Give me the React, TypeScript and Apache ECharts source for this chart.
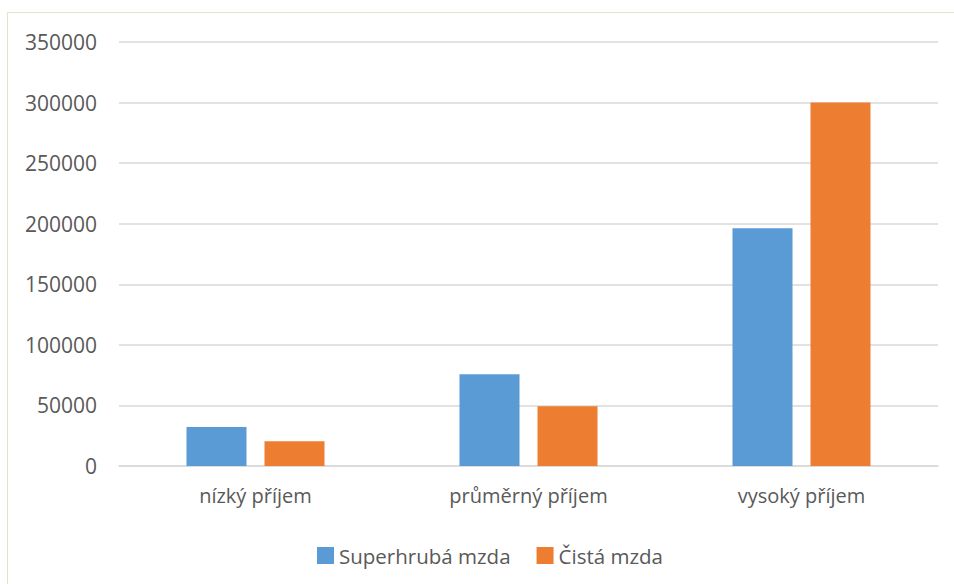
import React, { useEffect, useRef } from "react";
import * as echarts from "echarts";

const categories = ["nízký příjem", "průměrný příjem", "vysoký příjem"];
const seriesNames = ["Superhrubá mzda", "Čistá mzda"];
const superhrubaValues = [32200, 75800, 196200];
const cistaValues = [20400, 49400, 300000];
const yTicks = { min: 0, max: 350000, interval: 50000 };

const FONT = "'Open Sans', 'Noto Sans', sans-serif";
const TEXT = "#595959";

export default function App() {
  const ref = useRef<HTMLDivElement>(null);
  useEffect(() => {
    if (!ref.current) return;
    const chart = echarts.init(ref.current, null, { renderer: "svg" });
    chart.setOption({
      animation: false,
      backgroundColor: "#ffffff",
      textStyle: { fontFamily: FONT, color: TEXT },
      graphic: [
        {
          type: "rect",
          shape: { x: 7.5, y: 12.5, width: 1000, height: 700 },
          style: { fill: "none", stroke: "#e8e2c4", lineWidth: 1 },
          silent: true,
        },
      ],
      grid: { left: 119, right: 16, top: 42, bottom: 118, containLabel: false },
      legend: {
        data: seriesNames,
        top: 540,
        left: 312,
        itemWidth: 17,
        itemHeight: 17,
        itemGap: 26,
        icon: "rect",
        textStyle: { fontFamily: FONT, fontSize: 20.5, color: TEXT, padding: [0, 0, 0, 0] },
      },
      xAxis: {
        type: "category",
        data: categories,
        axisLine: { show: true, lineStyle: { color: "#d9d9d9", width: 1.5 } },
        axisTick: { show: false },
        axisLabel: { fontFamily: FONT, fontSize: 20, color: TEXT, margin: 19 },
      },
      yAxis: {
        type: "value",
        min: yTicks.min,
        max: yTicks.max,
        interval: yTicks.interval,
        axisLine: { show: false },
        axisTick: { show: false },
        splitLine: { lineStyle: { color: "#d9d9d9", width: 1.5 } },
        axisLabel: {
          fontFamily: FONT,
          fontSize: 21,
          color: TEXT,
          margin: 22,
          formatter: (v: number) => String(v),
        },
      },
      series: [
        {
          name: seriesNames[0],
          type: "bar",
          data: superhrubaValues,
          barWidth: 60,
          barGap: "30%",
          itemStyle: { color: "#5b9bd5" },
        },
        {
          name: seriesNames[1],
          type: "bar",
          data: cistaValues,
          barWidth: 60,
          barGap: "30%",
          itemStyle: { color: "#ed7d31" },
        },
      ],
    });
    return () => chart.dispose();
  }, []);
  return (
    <div
      ref={ref}
      style={{ position: "fixed", left: 0, top: 0, width: 954, height: 584 }}
    />
  );
}
